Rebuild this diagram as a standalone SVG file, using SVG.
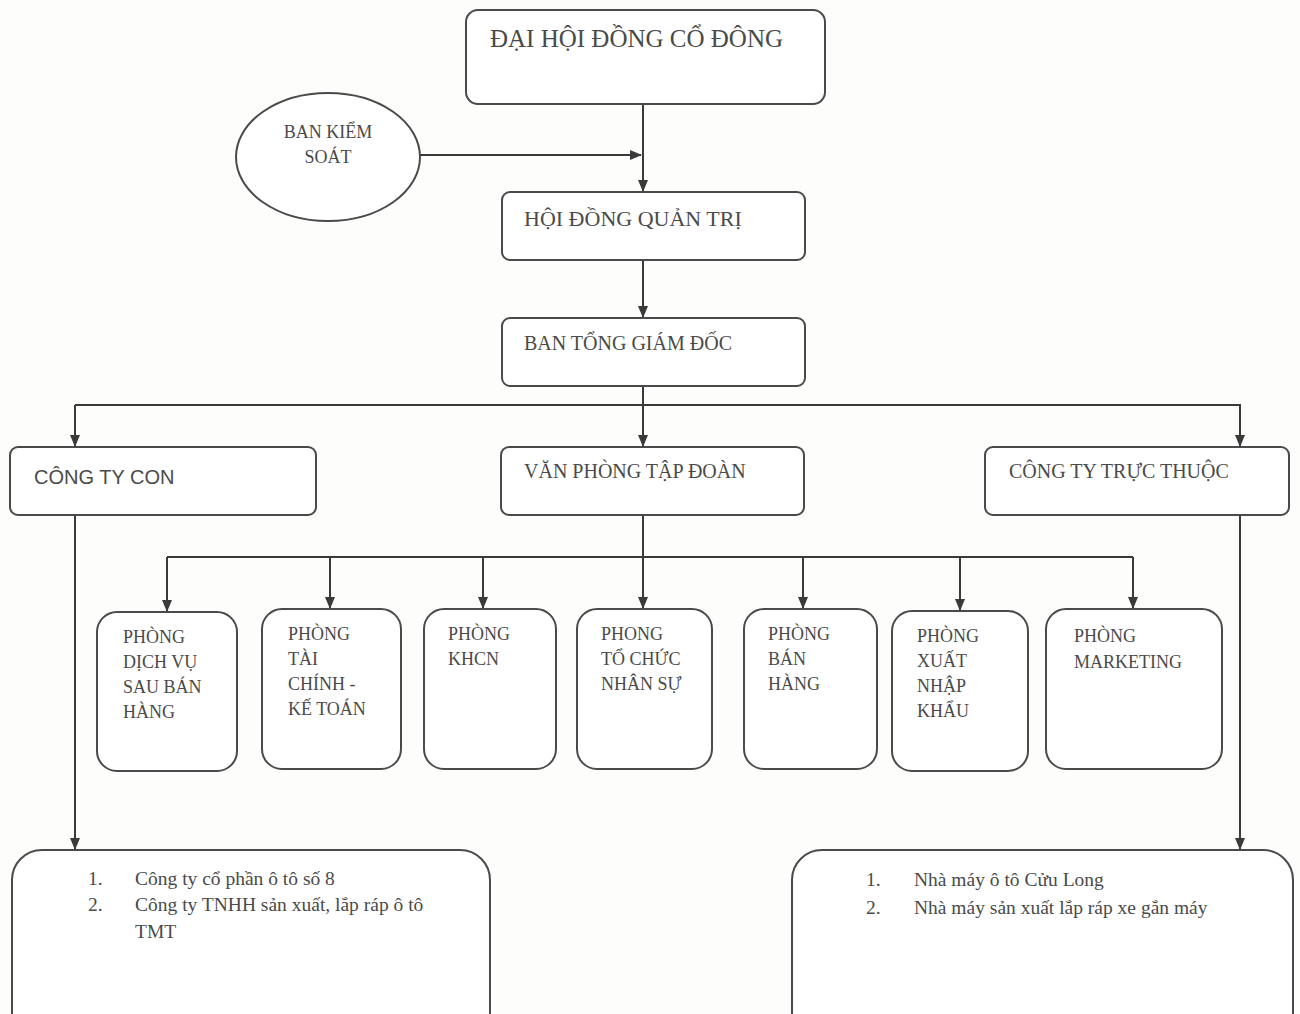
<svg xmlns="http://www.w3.org/2000/svg" width="1300" height="1014" viewBox="0 0 1300 1014">
<defs>
<marker id="ah" markerWidth="12" markerHeight="10" refX="11" refY="5" orient="auto" markerUnits="userSpaceOnUse">
<path d="M0,0 L12,5 L0,10 Z" fill="#3a3a3a"/>
</marker>
</defs>
<style>
.box{fill:#fff;stroke:#4a4a4a;stroke-width:2}
.t{font-family:"Liberation Serif","Times New Roman",serif;fill:#4a4a4a}
.s{font-family:"Liberation Sans",Arial,sans-serif;fill:#4a4a4a}
.c{fill:none;stroke:#3a3a3a;stroke-width:2}
</style>
<rect width="1300" height="1014" fill="#fdfdfc"/>
<g id="connectors">
<line class="c" x1="643" y1="104" x2="643" y2="191" marker-end="url(#ah)"/>
<line class="c" x1="420" y1="155" x2="641" y2="155" marker-end="url(#ah)"/>
<line class="c" x1="643" y1="260" x2="643" y2="317" marker-end="url(#ah)"/>
<line class="c" x1="643" y1="386" x2="643" y2="446" marker-end="url(#ah)"/>
<polyline class="c" points="75,405 1240,405 1240,446" marker-end="url(#ah)"/>
<line class="c" x1="75" y1="405" x2="75" y2="446" marker-end="url(#ah)"/>
<line class="c" x1="643" y1="515" x2="643" y2="608" marker-end="url(#ah)"/>
<line class="c" x1="167" y1="557" x2="1133" y2="557"/>
<line class="c" x1="167" y1="557" x2="167" y2="611" marker-end="url(#ah)"/>
<line class="c" x1="330" y1="557" x2="330" y2="608" marker-end="url(#ah)"/>
<line class="c" x1="483" y1="557" x2="483" y2="608" marker-end="url(#ah)"/>
<line class="c" x1="803" y1="557" x2="803" y2="608" marker-end="url(#ah)"/>
<line class="c" x1="960" y1="557" x2="960" y2="610" marker-end="url(#ah)"/>
<line class="c" x1="1133" y1="557" x2="1133" y2="608" marker-end="url(#ah)"/>
<line class="c" x1="75" y1="515" x2="75" y2="849" marker-end="url(#ah)"/>
<line class="c" x1="1240" y1="515" x2="1240" y2="849" marker-end="url(#ah)"/>
</g>
<g id="dhdcd">
<rect class="box" x="466" y="10" width="359" height="94" rx="12"/>
<text class="t" x="490" y="47" font-size="25">ĐẠI HỘI ĐỒNG CỔ ĐÔNG</text>
</g>
<g id="bks">
<ellipse class="box" cx="328" cy="157" rx="92" ry="64"/>
<text class="t" x="328" y="138" font-size="18" text-anchor="middle">BAN KIỂM</text>
<text class="t" x="328" y="163" font-size="18" text-anchor="middle">SOÁT</text>
</g>
<g id="hdqt">
<rect class="box" x="502" y="192" width="303" height="68" rx="8"/>
<text class="t" x="524" y="226" font-size="22">HỘI ĐỒNG QUẢN TRỊ</text>
</g>
<g id="btgd">
<rect class="box" x="502" y="318" width="303" height="68" rx="8"/>
<text class="t" x="524" y="350" font-size="20">BAN TỔNG GIÁM ĐỐC</text>
</g>
<g id="ctcon">
<rect class="box" x="10" y="447" width="306" height="68" rx="8"/>
<text class="s" x="34" y="484" font-size="20">CÔNG TY CON</text>
</g>
<g id="vptd">
<rect class="box" x="501" y="447" width="303" height="68" rx="8"/>
<text class="t" x="524" y="478" font-size="20">VĂN PHÒNG TẬP ĐOÀN</text>
</g>
<g id="cttt">
<rect class="box" x="985" y="447" width="304" height="68" rx="8"/>
<text class="t" x="1009" y="478" font-size="20">CÔNG TY TRỰC THUỘC</text>
</g>
<g id="p1">
<rect class="box" x="97" y="612" width="140" height="159" rx="20"/>
<text class="t" font-size="18"><tspan x="123" y="643">PHÒNG</tspan><tspan x="123" y="668">DỊCH VỤ</tspan><tspan x="123" y="693">SAU BÁN</tspan><tspan x="123" y="718">HÀNG</tspan></text>
</g>
<g id="p2">
<rect class="box" x="262" y="609" width="139" height="160" rx="20"/>
<text class="t" font-size="18"><tspan x="288" y="640">PHÒNG</tspan><tspan x="288" y="665">TÀI</tspan><tspan x="288" y="690">CHÍNH  -</tspan><tspan x="288" y="715">KẾ TOÁN</tspan></text>
</g>
<g id="p3">
<rect class="box" x="424" y="609" width="132" height="160" rx="20"/>
<text class="t" font-size="18"><tspan x="448" y="640">PHÒNG</tspan><tspan x="448" y="665">KHCN</tspan></text>
</g>
<g id="p4">
<rect class="box" x="577" y="609" width="135" height="160" rx="20"/>
<text class="t" font-size="18"><tspan x="601" y="640">PHONG</tspan><tspan x="601" y="665">TỔ CHỨC</tspan><tspan x="601" y="690">NHÂN SỰ</tspan></text>
</g>
<g id="p5">
<rect class="box" x="744" y="609" width="133" height="160" rx="20"/>
<text class="t" font-size="18"><tspan x="768" y="640">PHÒNG</tspan><tspan x="768" y="665">BÁN</tspan><tspan x="768" y="690">HÀNG</tspan></text>
</g>
<g id="p6">
<rect class="box" x="892" y="611" width="136" height="160" rx="20"/>
<text class="t" font-size="18"><tspan x="917" y="642">PHÒNG</tspan><tspan x="917" y="667">XUẤT</tspan><tspan x="917" y="692">NHẬP</tspan><tspan x="917" y="717">KHẨU</tspan></text>
</g>
<g id="p7">
<rect class="box" x="1046" y="609" width="176" height="160" rx="20"/>
<text class="t" font-size="18"><tspan x="1074" y="642">PHÒNG</tspan><tspan x="1074" y="668">MARKETING</tspan></text>
</g>
<g id="list-con">
<rect class="box" x="12" y="850" width="478" height="200" rx="30"/>
<text class="t" font-size="19.5"><tspan x="88" y="885">1.</tspan><tspan x="135" y="885">Công ty cổ phần ô tô số 8</tspan><tspan x="88" y="911">2.</tspan><tspan x="135" y="911">Công ty TNHH sản xuất, lắp ráp ô tô</tspan><tspan x="135" y="938">TMT</tspan></text>
</g>
<g id="list-tt">
<rect class="box" x="792" y="850" width="501" height="200" rx="30"/>
<text class="t" font-size="19.5"><tspan x="866" y="886">1.</tspan><tspan x="914" y="886">Nhà máy ô tô Cửu Long</tspan><tspan x="866" y="914">2.</tspan><tspan x="914" y="914">Nhà máy sản xuất lắp ráp xe gắn máy</tspan></text>
</g>
</svg>
